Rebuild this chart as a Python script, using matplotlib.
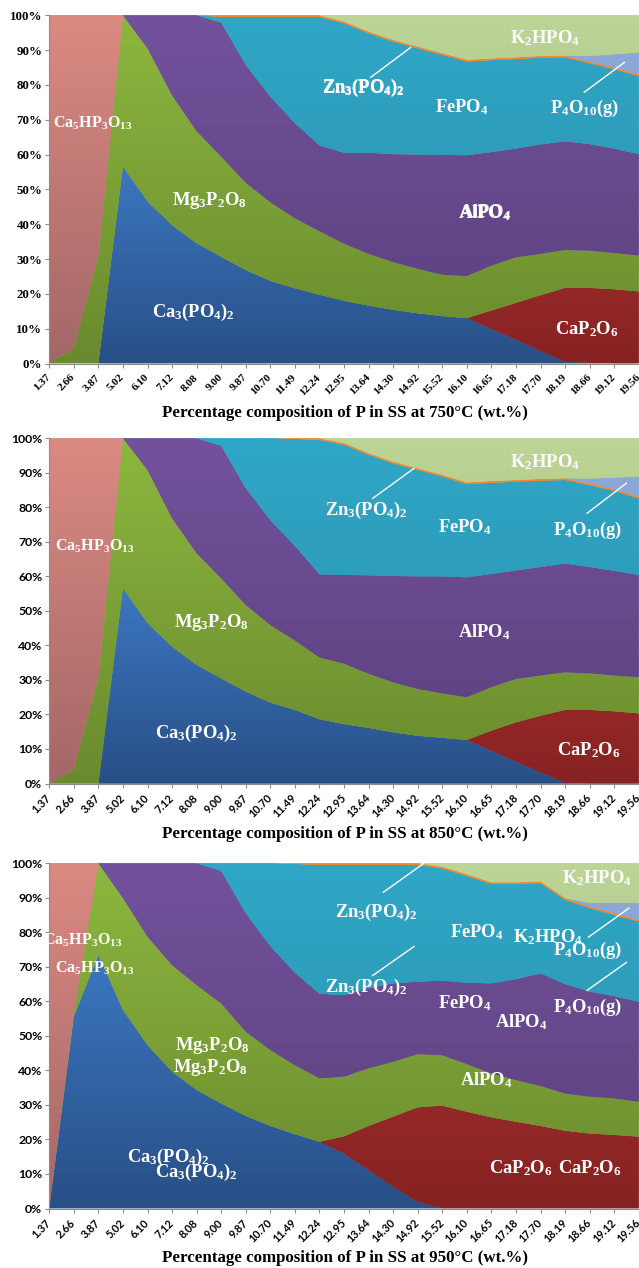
import numpy as np
import matplotlib
matplotlib.use('Agg')
import matplotlib.pyplot as plt
from matplotlib.colors import to_rgb

plt.rcParams['mathtext.fontset'] = 'custom'
plt.rcParams['mathtext.rm'] = 'Liberation Serif:bold'
plt.rcParams['mathtext.it'] = 'Liberation Serif:italic:bold'
plt.rcParams['mathtext.bf'] = 'Liberation Serif:bold'

cats = ['1.37', '2.66', '3.87', '5.02', '6.10', '7.12', '8.08', '9.00', '9.87', '10.70',
        '11.49', '12.24', '12.95', '13.64', '14.30', '14.92', '15.52', '16.10', '16.65',
        '17.18', '17.70', '18.19', '18.66', '19.12', '19.56']

series_names = ['Ca3(PO4)2', 'CaP2O6', 'Mg3P2O8', 'AlPO4', 'FePO4', 'Zn3(PO4)2',
                'P4O10(g)', 'K2HPO4', 'Ca5HP3O13']

# ---- 750 C ----
ca3_750 = [0, 0, 0, 56.5, 46.5, 39.7, 34.5, 30.6, 26.8, 23.7, 21.6, 19.7, 18.0, 16.6, 15.4, 14.4, 13.6, 13.0, 9.9, 6.8, 3.6, 0.5, 0.2, 0, 0]
cap2o6_750 = [0, 0, 0, 0, 0, 0, 0, 0, 0, 0, 0, 0, 0, 0, 0, 0, 0, 0, 5.3, 10.6, 16.0, 21.2, 21.5, 21.3, 20.7]
mg_750 = [0, 4.5, 31.0, 43.5, 44.0, 37.3, 32.2, 28.8, 25.1, 22.6, 20.1, 18.3, 16.4, 14.9, 13.7, 12.8, 11.9, 12.1, 12.9, 13.1, 11.9, 10.9, 10.7, 10.4, 10.3]
alpo4_750 = [0, 0, 0, 0, 9.5, 23.0, 33.3, 38.5, 33.8, 30.3, 27.3, 24.6, 26.1, 29.0, 31.0, 32.8, 34.4, 34.7, 32.6, 31.2, 31.4, 31.2, 30.6, 30.0, 29.1]
fepo4_750 = [0, 0, 0, 0, 0, 0, 0, 1.6, 13.8, 22.9, 30.5, 36.9, 37.2, 34.3, 32.3, 30.5, 28.7, 26.9, 26.4, 25.7, 24.9, 24.1, 23.2, 22.8, 22.4]
zn_750 = [0, 0, 0, 0, 0, 0, 0, 0.5, 0.5, 0.5, 0.5, 0.5, 0.5, 0.5, 0.5, 0.5, 0.5, 0.5, 0.5, 0.5, 0.5, 0.5, 0.5, 0.5, 0.5]
p4o10_750 = [0, 0, 0, 0, 0, 0, 0, 0, 0, 0, 0, 0, 0, 0, 0, 0, 0, 0, 0, 0, 0, 0, 1.6, 3.8, 6.3]
k2hpo4_750 = [0, 0, 0, 0, 0, 0, 0, 0, 0, 0, 0, 0, 1.8, 4.7, 7.1, 9.0, 10.9, 12.8, 12.4, 12.1, 11.7, 11.6, 11.7, 11.2, 10.7]
ca5_750 = [100, 95.5, 69.0, 0, 0, 0, 0, 0, 0, 0, 0, 0, 0, 0, 0, 0, 0, 0, 0, 0, 0, 0, 0, 0, 0]

# ---- 850 C ----
ca3_850 = [0, 0, 0, 56.5, 46.4, 39.6, 34.3, 30.4, 26.6, 23.4, 21.3, 18.6, 17.2, 16.1, 14.8, 13.8, 13.2, 12.6, 9.5, 6.3, 3.2, 0.2, 0, 0, 0]
cap2o6_850 = [0, 0, 0, 0, 0, 0, 0, 0, 0, 0, 0, 0, 0, 0, 0, 0, 0, 0, 5.8, 11.4, 16.4, 21.1, 21.3, 20.9, 20.3]
mg_850 = [0, 4.1, 30.9, 43.5, 44.4, 37.2, 32.4, 29.0, 25.1, 22.5, 20.1, 17.9, 17.5, 15.7, 14.5, 13.6, 12.9, 12.4, 12.6, 12.6, 11.7, 10.9, 10.6, 10.4, 10.5]
alpo4_850 = [0, 0, 0, 0, 9.2, 23.2, 33.3, 38.4, 33.8, 30.4, 27.4, 24.1, 25.7, 28.5, 30.8, 32.6, 33.9, 34.7, 32.8, 31.4, 31.4, 31.5, 30.8, 30.3, 29.6]
fepo4_850 = [0, 0, 0, 0, 0, 0, 0, 2.2, 14.5, 23.7, 31.0, 38.9, 37.7, 34.9, 32.6, 30.8, 28.9, 27.0, 26.4, 25.7, 25.0, 24.2, 23.7, 23.1, 22.2]
zn_850 = [0, 0, 0, 0, 0, 0, 0, 0, 0, 0, 0.2, 0.5, 0.5, 0.5, 0.5, 0.5, 0.5, 0.5, 0.5, 0.5, 0.5, 0.5, 0.5, 0.5, 0.5]
p4o10_850 = [0, 0, 0, 0, 0, 0, 0, 0, 0, 0, 0, 0, 0, 0, 0, 0, 0, 0, 0, 0, 0, 0, 1.4, 3.4, 5.8]
k2hpo4_850 = [0, 0, 0, 0, 0, 0, 0, 0, 0, 0, 0, 0, 1.4, 4.3, 6.8, 8.7, 10.6, 12.8, 12.4, 12.1, 11.8, 11.6, 11.7, 11.4, 11.1]
ca5_850 = [100, 95.9, 69.1, 0, 0, 0, 0, 0, 0, 0, 0, 0, 0, 0, 0, 0, 0, 0, 0, 0, 0, 0, 0, 0, 0]

# ---- 950 C ----
ca3_950 = [0, 55.6, 73.4, 57.5, 47.3, 39.6, 34.3, 30.4, 26.8, 23.9, 21.5, 19.3, 15.9, 11.1, 6.3, 1.9, 0, 0, 0, 0, 0, 0, 0, 0, 0]
cap2o6_950 = [0, 0, 0, 0, 0, 0, 0, 0, 0, 0, 0, 0, 5.0, 12.8, 20.3, 27.4, 29.8, 28.0, 26.4, 25.1, 23.9, 22.5, 21.7, 21.3, 20.8]
mg_950 = [0, 0.9, 26.6, 32.4, 31.4, 30.9, 30.4, 29.0, 24.4, 22.0, 20.0, 18.4, 17.3, 16.7, 15.9, 15.4, 14.6, 13.8, 12.7, 12.1, 11.6, 10.8, 10.7, 10.6, 10.1]
alpo4_950 = [0, 0, 0, 10.1, 21.3, 29.5, 35.3, 38.4, 34.3, 30.1, 26.8, 24.5, 23.6, 23.2, 22.7, 21.0, 21.6, 23.6, 26.1, 29.2, 32.6, 31.7, 30.4, 29.6, 29.0]
fepo4_950 = [0, 0, 0, 0, 0, 0, 0, 2.2, 14.5, 24.0, 31.5, 37.3, 37.7, 35.7, 34.3, 33.8, 32.5, 30.9, 28.8, 27.6, 26.1, 24.4, 24.2, 23.5, 23.2]
zn_950 = [0, 0, 0, 0, 0, 0, 0, 0, 0, 0, 0.2, 0.5, 0.5, 0.5, 0.5, 0.5, 0.5, 0.5, 0.5, 0.5, 0.5, 0.5, 0.5, 0.5, 0.5]
p4o10_950 = [0, 0, 0, 0, 0, 0, 0, 0, 0, 0, 0, 0, 0, 0, 0, 0, 0, 0, 0, 0, 0, 0, 1.0, 3.0, 4.9]
k2hpo4_950 = [0, 0, 0, 0, 0, 0, 0, 0, 0, 0, 0, 0, 0, 0, 0, 0, 1.0, 3.2, 5.5, 5.5, 5.3, 10.1, 11.5, 11.5, 11.5]
ca5_950 = [100, 43.5, 0, 0, 0, 0, 0, 0, 0, 0, 0, 0, 0, 0, 0, 0, 0, 0, 0, 0, 0, 0, 0, 0, 0]

temps = ['750', '850', '950']

# gradient colours (top, bottom) per series
grad_colors = [
    ('#3c77c0', '#284f86'),   # Ca3(PO4)2
    ('#aa3230', '#862222'),   # CaP2O6
    ('#8db73f', '#698a2e'),   # Mg3P2O8
    ('#73529c', '#5a3f7c'),   # AlPO4
    ('#30a7c7', '#2a8ea9'),   # FePO4
    ('#f38b2e', '#e57a20'),   # Zn3(PO4)2
    ('#8eaad9', '#7f99c8'),   # P4O10
    ('#bdd697', '#97b16b'),   # K2HPO4
    ('#db8a82', '#a36767'),   # Ca5HP3O13
]

W, H = 639, 1268
fig = plt.figure(figsize=(W / 100, H / 100), dpi=100)

panels = [
    dict(top=15.3, bot=363.5, series=[ca3_750, cap2o6_750, mg_750, alpo4_750, fepo4_750, zn_750, p4o10_750, k2hpo4_750, ca5_750], serif_ticks=True, xlab_y=413),
    dict(top=438.3, bot=783.5, series=[ca3_850, cap2o6_850, mg_850, alpo4_850, fepo4_850, zn_850, p4o10_850, k2hpo4_850, ca5_850], serif_ticks=False, xlab_y=834),
    dict(top=863.3, bot=1208.5, series=[ca3_950, cap2o6_950, mg_950, alpo4_950, fepo4_950, zn_950, p4o10_950, k2hpo4_950, ca5_950], serif_ticks=False, xlab_y=1258),
]

LEFT = 49.3
RIGHT = 639.0
x = np.arange(len(cats))

lab_ca3 = r'Ca$_3$(PO$_4$)$_2$'
lab_cap = r'CaP$_2$O$_6$'
lab_mg = r'Mg$_3$P$_2$O$_8$'
lab_al = r'AlPO$_4$'
lab_fe = r'FePO$_4$'
lab_zn = r'Zn$_3$(PO$_4$)$_2$'
lab_p4 = r'P$_4$O$_{10}$(g)'
lab_k = r'K$_2$HPO$_4$'
lab_ca5 = r'Ca$_5$HP$_3$O$_{13}$'

labels_per_panel = [
    [(lab_ca5, 1.76, 69.0), (lab_mg, 6.5, 46.8), (lab_ca3, 5.87, 14.7), (lab_zn, 12.77, 79.0),
     (lab_zn, 12.80, 79.3), (lab_fe, 16.8, 73.6), (lab_p4, 21.8, 73.3), (lab_k, 20.2, 93.4),
     (lab_al, 17.7, 43.1), (lab_al, 17.73, 43.6), (lab_cap, 21.9, 10.0)],
    [(lab_ca5, 1.87, 68.7), (lab_mg, 6.6, 46.7), (lab_ca3, 6.0, 14.5), (lab_zn, 12.9, 79.1),
     (lab_fe, 16.9, 74.2), (lab_p4, 21.9, 73.3), (lab_k, 20.2, 93.0), (lab_al, 17.7, 43.8),
     (lab_cap, 21.95, 9.6)],
    [(lab_ca5, 1.38, 77.7), (lab_ca5, 1.87, 69.6), (lab_mg, 6.64, 47.2), (lab_mg, 6.57, 40.9),
     (lab_ca3, 4.85, 14.8), (lab_ca3, 6.0, 10.4), (lab_zn, 13.3, 85.8), (lab_zn, 12.9, 64.1),
     (lab_fe, 17.4, 80.0), (lab_fe, 16.9, 59.4), (lab_k, 22.3, 95.7), (lab_k, 20.3, 78.6),
     (lab_p4, 21.9, 74.8), (lab_p4, 21.9, 58.3), (lab_al, 19.2, 54.0), (lab_al, 17.8, 37.1),
     (lab_cap, 19.2, 11.6), (lab_cap, 22.0, 11.6)],
]

leaders_per_panel = [
    [((13.09, 82.2), (14.72, 90.8)), ((21.78, 77.9), (23.42, 86.5))],
    [((13.17, 82.6), (14.85, 91.3)), ((21.9, 78.3), (23.5, 87.0))],
    [((13.6, 91.6), (15.25, 100.0)), ((13.17, 67.5), (14.85, 75.9)),
     ((21.95, 78.6), (23.6, 87.0)), ((21.9, 63.2), (23.5, 71.3))],
]


def grad_fill(ax, poly, ctop, cbot):
    paths = poly.get_paths()
    if not paths:
        return
    path = paths[0]
    v = path.vertices
    ymin, ymax = v[:, 1].min(), v[:, 1].max()
    xmin, xmax = v[:, 0].min(), v[:, 0].max()
    if ymax - ymin < 1e-6:
        return
    n = 256
    t = np.linspace(0, 1, n)[:, None]
    ct = np.array(to_rgb(ctop))
    cb = np.array(to_rgb(cbot))
    img = (ct[None, :] * (1 - t) + cb[None, :] * t)[:, None, :]
    im = ax.imshow(img, extent=[xmin, xmax, ymin, ymax], origin='upper',
                   aspect='auto', interpolation='bilinear', zorder=2)
    im.set_clip_path(path, transform=ax.transData)


for pi, p in enumerate(panels):
    bottom = 1 - p['bot'] / H
    height = (p['bot'] - p['top']) / H
    ax = fig.add_axes([LEFT / W, bottom, (RIGHT - LEFT) / W, height])
    mids = [tuple((np.array(to_rgb(a)) + np.array(to_rgb(b))) / 2) for a, b in grad_colors]
    polys = ax.stackplot(x, *p['series'], colors=mids, linewidth=0, zorder=1)
    for poly, (ct, cb) in zip(polys, grad_colors):
        poly.set_edgecolor('none')
        grad_fill(ax, poly, ct, cb)
    ax.set_xlim(0, (RIGHT - LEFT) / 24.56)
    ax.set_ylim(0, 100)

    for s in ['top', 'right']:
        ax.spines[s].set_visible(False)
    for s in ['left', 'bottom']:
        ax.spines[s].set_color('#8c8c8c')
        ax.spines[s].set_linewidth(0.8)
        ax.spines[s].set_zorder(5)

    ax.set_xticks(x)
    ax.set_yticks(np.arange(0, 101, 10))
    ax.set_yticklabels([f'{v}%' for v in range(0, 101, 10)])
    if p['serif_ticks']:
        tfam = 'Liberation Serif'
        tsize_x, tsize_y = 8.0, 9.3
    else:
        tfam = 'Lato'
        tsize_x, tsize_y = 7.8, 8.8
    ax.set_xticklabels(cats, rotation=45, ha='right', va='center', rotation_mode='anchor',
                       fontfamily=tfam, fontweight='bold', fontsize=tsize_x)
    for lbl in ax.get_yticklabels():
        lbl.set_fontfamily(tfam)
        lbl.set_fontweight('bold')
        lbl.set_fontsize(tsize_y)
    ax.tick_params(axis='both', length=3, width=0.8, color='#8c8c8c', pad=2)
    ax.tick_params(axis='x', pad=6)

    for txt, lx, ly in labels_per_panel[pi]:
        fs = 11.5 if txt == lab_ca5 else 13.3
        ax.text(lx, ly, txt, color='white', fontsize=fs, fontfamily='Liberation Serif',
                fontweight='bold', ha='center', va='center', zorder=6)
    for (x0, y0), (x1, y1) in leaders_per_panel[pi]:
        ax.plot([x0, x1], [y0, y1], color='white', lw=1.0, zorder=6)

    fig.text(345 / W, 1 - p['xlab_y'] / H,
             f'Percentage composition of P in SS at {temps[pi]}\u00b0C (wt.%)',
             ha='center', va='center', fontfamily='Liberation Serif', fontweight='bold',
             fontsize=12.2)

fig.savefig('out.png', dpi=100)
